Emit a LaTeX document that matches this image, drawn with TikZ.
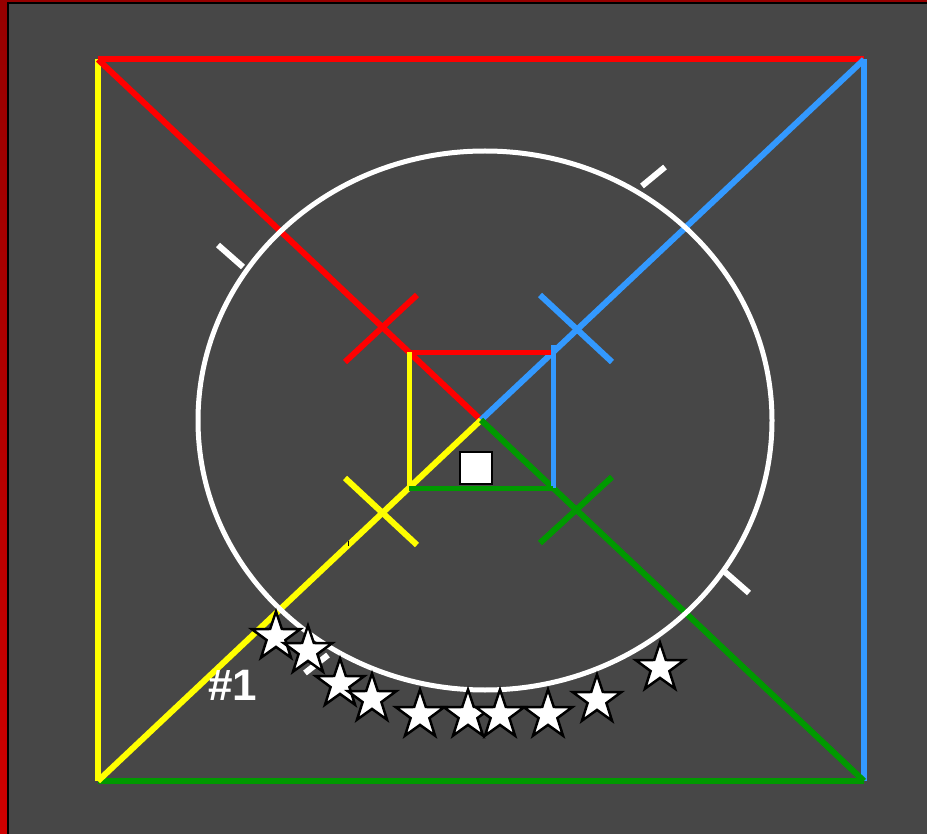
\documentclass[tikz,border=0pt]{standalone}
\usepackage{fontspec}
\newfontfamily\lsans{Liberation Sans}
\definecolor{bg}{RGB}{71,71,71}
\definecolor{frtop}{RGB}{150,0,0}
\definecolor{frbot}{RGB}{208,0,0}
\definecolor{lred}{RGB}{255,0,0}
\definecolor{lyel}{RGB}{255,255,0}
\definecolor{lblue}{RGB}{51,153,255}
\definecolor{lgreen}{RGB}{0,153,0}
\tikzset{
  ln/.style={line width=6pt},
  inl/.style={line width=5pt},
  tickmark/.style={white,line width=6pt},
  starpic/.pic={
    \filldraw[fill=white,draw=black,line width=2.5pt,line join=miter,miter limit=4]
      (-90:25.5)--(-54:9.9)--(-18:25.5)--(18:9.9)--(54:25.5)--(90:9.9)--(126:25.5)--(162:9.9)--(198:25.5)--(234:9.9)--cycle;
  }
}
\begin{document}
\begin{tikzpicture}[x=1pt,y=-1pt,line cap=butt]
\useasboundingbox (0,0) rectangle (927,834);
% frame and background
\shade[top color=frtop,bottom color=frbot] (0,0) rectangle (927,834);
\fill[black] (7,2) rectangle (927,834);
\fill[bg] (9,4) rectangle (927,834);
% key points
\coordinate (TL) at (98,59.5);
\coordinate (TR) at (864,59.5);
\coordinate (BL) at (98,781);
\coordinate (BR) at (864,781);
\coordinate (C) at (481,420);
\coordinate (iTL) at (409,352.5);
\coordinate (iTR) at (553,352.5);
\coordinate (iBL) at (409,488);
\coordinate (iBR) at (553,488);
% outer square sides
\draw[ln,lred] (TL) -- (TR);
\draw[ln,lyel] (TL) -- (BL);
\draw[ln,lblue] (TR) -- (BR);
\draw[ln,lgreen] (BL) -- (BR);
% diagonals
\draw[ln,lred] (TL) -- (C);
\draw[ln,lblue] (TR) -- (C);
\draw[ln,lyel] (BL) -- (C);
\draw[ln,lgreen] (BR) -- (C);
% inner square
\draw[inl,lred] ([xshift=-1pt]iTL) -- (iTR);
\draw[inl,lyel] (iTL) -- (iBL);
\draw[inl,lblue] ([yshift=7.5pt]iTR) -- (iBR);
\draw[inl,lgreen] (iBL) -- (iBR);
% crosses
\coordinate (xr1) at (345,362); \coordinate (xr2) at (417,295);
\coordinate (xb1) at (540,295); \coordinate (xb2) at (612,362);
\coordinate (xy1) at (345,478); \coordinate (xy2) at (417,545);
\coordinate (xg1) at (540,543); \coordinate (xg2) at (612,477);
\draw[ln,lred] (xr1) -- (xr2);
\draw[ln,lblue] (xb1) -- (xb2);
\draw[ln,lyel] (xy1) -- (xy2);
\draw[ln,lgreen] (xg1) -- (xg2);
% circle
\coordinate (O) at (485,420.5);
\draw[white,line width=5pt] (O) ellipse [x radius=287, y radius=269.5];
% tick marks
\coordinate (tUL1) at (243,267); \coordinate (tUL2) at (218,245);
\coordinate (tUR1) at (642,186); \coordinate (tUR2) at (665,167);
\coordinate (tLR1) at (725,572); \coordinate (tLR2) at (749,593);
\coordinate (tLL1) at (328,655); \coordinate (tLL2) at (305,673);
\draw[tickmark] (tUL1) -- (tUL2);
\draw[tickmark] (tUR1) -- (tUR2);
\draw[tickmark] (tLR1) -- (tLR2);
\draw[tickmark] (tLL1) -- (tLL2);
% tiny mark
\coordinate (m1) at (348,541); \coordinate (m2) at (348,546);
\draw[black,line width=1pt] (m1) -- (m2);
% centre square
\node[draw=black,fill=white,line width=2pt,minimum size=32pt,inner sep=0pt] (sq) at (476,467.5) {};
% stars
\foreach \px/\py in {276/637, 308/651, 340/684, 372/699, 420/715, 468/715, 500/715, 548/715, 597/700, 660/668}
  \pic at (\px,\py) {starpic};
% label
\node[text=white,font=\lsans\bfseries\fontsize{44}{44}\selectfont,anchor=base,inner sep=0pt] (lab) at (232.5,700) {\#1};
\end{tikzpicture}
\end{document}
